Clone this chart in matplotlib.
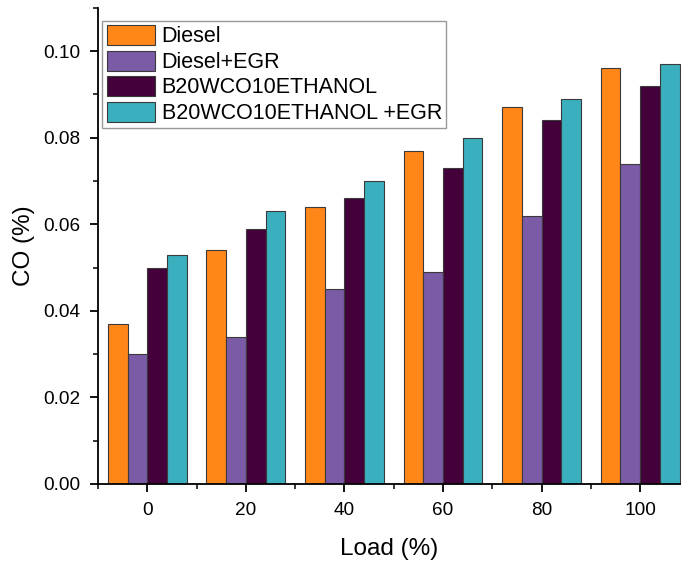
import matplotlib
matplotlib.use("Agg")
import matplotlib.pyplot as plt
import numpy as np
from matplotlib.ticker import MultipleLocator, FormatStrFormatter

plt.rcParams['font.family'] = ['Liberation Sans', 'DejaVu Sans']

# dados
carga = np.array([0, 20, 40, 60, 80, 100])
diesel = [0.037, 0.054, 0.064, 0.077, 0.087, 0.096]
diesel_egr = [0.030, 0.034, 0.045, 0.049, 0.062, 0.074]
b20 = [0.050, 0.059, 0.066, 0.073, 0.084, 0.092]
b20_egr = [0.053, 0.063, 0.070, 0.080, 0.089, 0.097]

series = [diesel, diesel_egr, b20, b20_egr]
nomes = ['Diesel', 'Diesel+EGR', 'B20WCO10ETHANOL', 'B20WCO10ETHANOL +EGR']
cores = ['#FF8619', '#7B5AA6', '#43003A', '#3AAFBE']

fig = plt.figure(figsize=(6.81, 5.62), dpi=100)
ax = fig.add_axes([0.144, 0.139, 0.856, 0.847])

largura = 4
offsets = [-6, -2, 2, 6]
for vals, nome, cor, off in zip(series, nomes, cores, offsets):
    ax.bar(carga + off, vals, width=largura, color=cor, edgecolor='#3a3a3a',
           linewidth=0.8, label=nome)

ax.set_xlim(-10, 108.3)
ax.set_ylim(0, 0.11)
ax.set_xticks(carga)
ax.xaxis.set_minor_locator(MultipleLocator(10))
ax.yaxis.set_major_locator(MultipleLocator(0.02))
ax.yaxis.set_minor_locator(MultipleLocator(0.01))
ax.yaxis.set_major_formatter(FormatStrFormatter('%.2f'))

for s in ['top', 'right']:
    ax.spines[s].set_visible(False)
for s in ['left', 'bottom']:
    ax.spines[s].set_linewidth(1.3)

ax.tick_params(which='major', direction='out', length=6, width=1.3, labelsize=13.7, pad=7)
ax.tick_params(which='minor', direction='out', length=3.5, width=1.1)

ax.set_xlabel('Load (%)', fontsize=17.5, labelpad=14)
ax.set_ylabel('CO (%)', fontsize=17.5, labelpad=6)

leg = ax.legend(loc='upper left', bbox_to_anchor=(0.0, 0.982), fontsize=15.5,
                handlelength=2.25, handleheight=1.05, labelspacing=0.15,
                handletextpad=0.3, borderpad=0.2, borderaxespad=0.2,
                fancybox=False, edgecolor='#999999', framealpha=1)
leg.get_frame().set_linewidth(1.0)

plt.savefig('out.png', dpi=100)
